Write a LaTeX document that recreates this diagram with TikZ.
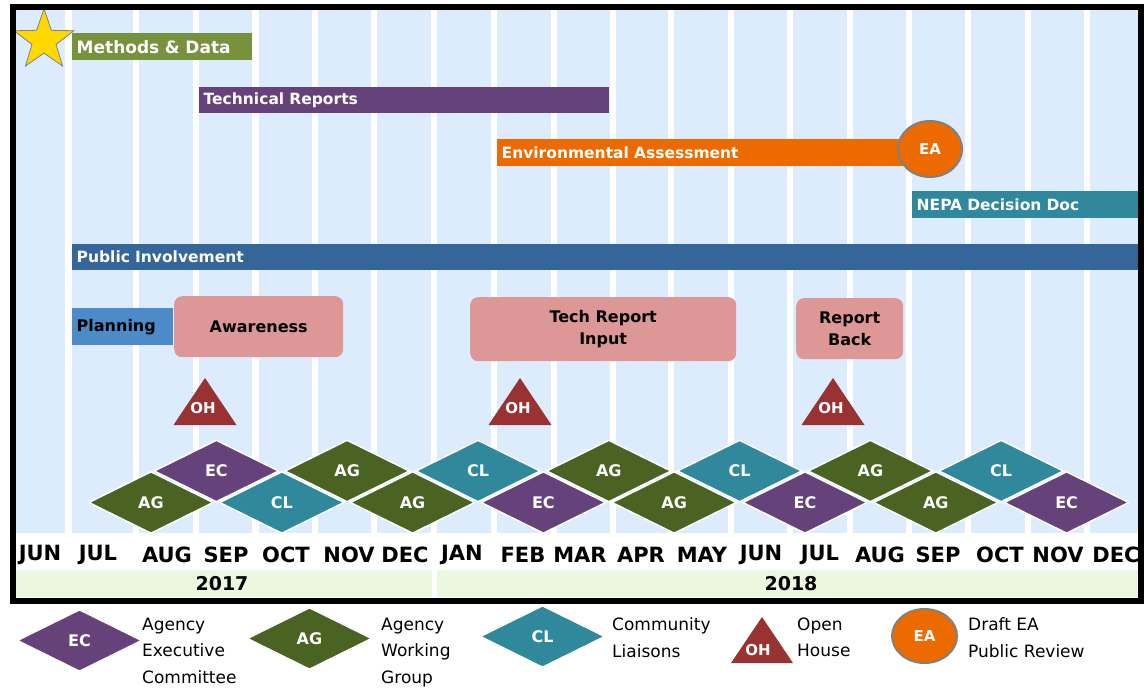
\documentclass[tikz,border=0pt]{standalone}
\usepackage{fontspec}
\setmainfont{DejaVu Sans}
\usetikzlibrary{shapes.geometric}
\definecolor{colbg}{HTML}{DDECFC}
\definecolor{mdgreen}{HTML}{76923C}
\definecolor{purp}{HTML}{65437A}
\definecolor{orng}{HTML}{EC6A00}
\definecolor{tealc}{HTML}{2F889B}
\definecolor{piblue}{HTML}{34669A}
\definecolor{planblue}{HTML}{4B8BC8}
\definecolor{pinkc}{HTML}{DD9796}
\definecolor{ohred}{HTML}{993333}
\definecolor{agreen}{HTML}{4A6322}
\definecolor{yrgreen}{HTML}{EBF8DF}
\definecolor{staryel}{HTML}{FFD800}
\newcommand{\myfs}[2]{\fontsize{#1}{#2}\selectfont}
\begin{document}
\begin{tikzpicture}[x=1pt,y=-1pt,
  bar/.style={anchor=north west, inner xsep=4.5pt, inner ysep=0pt, align=left,
    text=white, font=\bfseries\myfs{15.5}{18}},
  pinkbox/.style={anchor=north west, fill=pinkc, rounded corners=8pt, inner sep=0pt,
    align=center, font=\bfseries\myfs{16}{22}},
  dmd/.style={diamond, minimum width=125pt, minimum height=62pt, inner sep=0pt,
    draw=white, line width=1.5pt, text=white, font=\bfseries\myfs{16}{16}},
  ohtext/.style={text=white, inner sep=0pt, font=\bfseries\myfs{15}{15}},
  eacirc/.style={ellipse, fill=orng, draw=gray, line width=2pt, inner sep=0pt,
    text=white, font=\bfseries\myfs{15}{15}},
  month/.style={inner sep=0pt, font=\bfseries\myfs{21}{21}},
  year/.style={inner sep=0pt, font=\bfseries\myfs{19}{19}},
  legtext/.style={anchor=north west, inner sep=0pt, align=left, font=\myfs{17}{26.5}}
]
\useasboundingbox (0,0) rectangle (1144,688);
\fill[white] (0,0) rectangle (1144,688);
% month columns
\foreach \a/\b in {16/65,72/133,139/193,199/252,259/312,318/371,377/431,437/491,
  497/551,557/610,616/668,674/728,734/787,793/847,853/906,912/965,971/1025,
  1031/1084,1090/1139}
  \fill[colbg] (\a,10) rectangle (\b,533);
% year bands
\fill[yrgreen] (16,570) rectangle (432,597);
\fill[yrgreen] (437,570) rectangle (1139,597);
\node[year] (y17) at (222,583.5) {2017};
\node[year] (y18) at (791,583.5) {2018};
% month labels
\foreach [count=\i] \m/\x in {JUN/40,JUL/98,AUG/167,SEP/226,OCT/286,NOV/349,DEC/405,
  JAN/462,FEB/523,MAR/580,APR/641,MAY/702,JUN/761,JUL/820,AUG/880,SEP/938,
  OCT/1000,NOV/1058,DEC/1116}
  \node[month] (mon\i) at (\x,555) {\m};
% star
\node[star, star points=5, star point ratio=2.5, fill=staryel, draw=gray,
  line width=0.8pt, minimum size=63pt, inner sep=0pt] (star) at (44,40.5) {};
% bars
\node[bar, fill=mdgreen, font=\bfseries\myfs{17}{18}, text width=171pt, minimum height=27pt] (md) at (72,33) {Methods \& Data};
\node[bar, fill=purp, text width=401pt, minimum height=26pt] (tr) at (199,87) {Technical Reports};
\node[bar, fill=orng, text width=424pt, minimum height=27pt] (env) at (497,139) {Environmental Assessment};
\node[eacirc, minimum width=64pt, minimum height=56pt] (ea) at (930,149) {EA};
\node[bar, fill=tealc, text width=218pt, minimum height=27pt] (nepa) at (912,191) {NEPA Decision Doc};
\node[bar, fill=piblue, text width=1058pt, minimum height=26pt] (pi) at (72,244) {Public Involvement};
\node[bar, fill=planblue, text=black, font=\bfseries\myfs{16}{18}, text width=92pt,
  minimum height=37pt] (plan) at (72,308) {Planning};
% pink boxes
\node[pinkbox, minimum width=169pt, minimum height=61pt] (aw) at (174,296) {Awareness};
\node[pinkbox, minimum width=266pt, minimum height=64pt] (tri) at (470,297) {Tech Report\\Input};
\node[pinkbox, minimum width=107pt, minimum height=61pt] (rb) at (796,298) {Report\\Back};
% open houses
\foreach \x [count=\i] in {205,520,833}{
  \fill[ohred] (\x-31.5,425) -- (\x,378) -- (\x+31.5,425) -- cycle;
  \node[ohtext] (oh\i) at (\x-2,408.5) {OH};
}
% diamonds
\foreach \t/\c/\u [count=\i from 0] in {AG/agreen/0,EC/purp/1,CL/tealc/0,AG/agreen/1,
  AG/agreen/0,CL/tealc/1,EC/purp/0,AG/agreen/1,AG/agreen/0,CL/tealc/1,EC/purp/0,
  AG/agreen/1,AG/agreen/0,CL/tealc/1,EC/purp/0}{
  \pgfmathsetmacro{\dx}{151+65.4*\i}
  \pgfmathsetmacro{\dy}{\u==1 ? 471 : 502.5}
  \node[dmd, fill=\c] (dm\i) at (\dx,\dy) {\t};
}
% frame
\draw[line width=6pt] (13,7) rectangle (1141,600.5);
% legend
\node[dmd, fill=purp] (lec) at (79.5,640.5) {EC};
\node[legtext] (lect) at (142,617.5) {Agency\\Executive\\Committee};
\node[dmd, fill=agreen] (lag) at (309.5,638.5) {AG};
\node[legtext] (lagt) at (381,617.5) {Agency\\Working\\Group};
\node[dmd, fill=tealc] (lcl) at (542.5,636.5) {CL};
\node[legtext] (lclt) at (612,617.5) {Community\\Liaisons};
\fill[ohred] (731,663) -- (762,617) -- (793,663) -- cycle;
\node[ohtext] (loh) at (758,650) {OH};
\node[legtext] (loht) at (797,617.5) {Open\\House};
\node[eacirc, minimum width=65pt, minimum height=54pt] (lea) at (924.5,636) {EA};
\node[legtext] (leat) at (968,617.5) {Draft EA\\Public Review};
\end{tikzpicture}
\end{document}
